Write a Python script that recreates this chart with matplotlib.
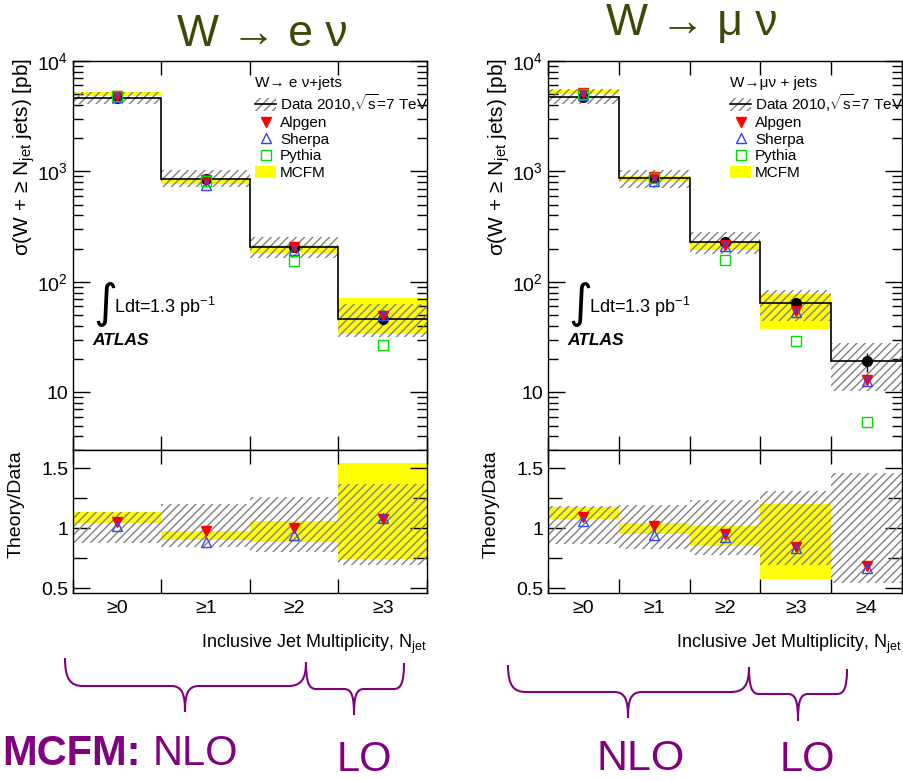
import numpy as np
import matplotlib
matplotlib.use("Agg")
import matplotlib.pyplot as plt
from matplotlib.patches import Patch, PathPatch
from matplotlib.lines import Line2D
from matplotlib.path import Path
from matplotlib.ticker import FixedLocator, LogLocator, NullFormatter, FixedFormatter

plt.rcParams.update({
    "font.family": ["Liberation Sans", "DejaVu Sans"],
    "mathtext.fontset": "custom",
    "mathtext.rm": "Liberation Sans",
    "mathtext.it": "Liberation Sans:italic",
    "mathtext.bf": "Liberation Sans:bold",
    "mathtext.default": "regular",
    "hatch.linewidth": 1.0,
})

# ---- data : W -> e nu ----
e_bins = ["≥0", "≥1", "≥2", "≥3"]
e_data = [4600, 853, 205, 46]
e_stat = [0.01, 0.02, 0.03, 0.08]          # relative stat. error on data point
e_band_lo = [0.88, 0.845, 0.80, 0.69]      # data uncertainty band (relative)
e_band_hi = [1.13, 1.20, 1.255, 1.37]
e_mcfm_lo = [1.04, 0.905, 0.885, 0.74]     # MCFM / data
e_mcfm_hi = [1.135, 0.978, 1.056, 1.545]
e_alpgen = [1.05, 0.98, 1.0, 1.075]        # Alpgen / data
e_sherpa = [1.02, 0.885, 0.94, 1.08]       # Sherpa / data
e_pythia = [4800, 824, 153, 27]            # pb

# ---- data : W -> mu nu ----
mu_bins = ["≥0", "≥1", "≥2", "≥3", "≥4"]
mu_data = [4680, 865, 228, 64.5, 19]
mu_stat = [0.01, 0.02, 0.03, 0.07, 0.2]
mu_band_lo = [0.865, 0.825, 0.78, 0.69, 0.54]
mu_band_hi = [1.18, 1.19, 1.23, 1.31, 1.455]
mu_mcfm_lo = [1.072, 0.953, 0.85, 0.575, np.nan]
mu_mcfm_hi = [1.178, 1.04, 1.017, 1.198, np.nan]
mu_alpgen = [1.09, 1.02, 0.955, 0.84, 0.685]
mu_sherpa = [1.06, 0.94, 0.93, 0.835, 0.67]
mu_pythia = [5000, 870, 159, 29, 5.4]

W, H = 904, 781
fig = plt.figure(figsize=(W / 100, H / 100), dpi=100)

HATCH_C = "#808080"
YEL = "#ffff00"
RED = "#ff0000"
BLUE = "#3344ff"
GREEN = "#00dd00"
PURPLE = "#800080"
OLIVE = "#3b4a06"


def px_axes(x0, y0, x1, y1):
    return fig.add_axes([x0 / W, 1 - y1 / H, (x1 - x0) / W, (y1 - y0) / H])


def style(ax, n):
    ax.set_xlim(-0.5, n - 0.5)
    ax.xaxis.set_major_locator(FixedLocator(np.arange(n + 1) - 0.5))
    ax.xaxis.set_major_formatter(NullFormatter())
    ax.tick_params(axis="both", which="both", direction="in", top=True, right=True)
    ax.tick_params(axis="x", which="major", length=10, width=1)
    ax.tick_params(axis="y", which="major", length=12, width=1, labelsize=14, pad=3.5)
    ax.tick_params(axis="y", which="minor", length=7, width=1)
    for s in ax.spines.values():
        s.set_linewidth(1.0)


def panel(x0, x1, bins, data, stat, blo, bhi, mlo, mhi, alp, she, pyt, title, header):
    n = len(bins)
    data = np.array(data, float)
    blo, bhi = np.array(blo), np.array(bhi)
    mlo, mhi = np.array(mlo), np.array(mhi)
    alp, she = np.array(alp), np.array(she)
    stat = np.array(stat)
    x = np.arange(n)
    edges = np.arange(n + 1) - 0.5
    has = ~np.isnan(mlo)

    ax = px_axes(x0, 61, x1, 450)
    axr = px_axes(x0, 450, x1, 593)

    # ---- main panel ----
    ax.set_yscale("log")
    ax.bar(x[has], (mhi - mlo)[has] * data[has], bottom=(mlo * data)[has], width=1,
           color=YEL, linewidth=0, zorder=1)
    ax.bar(x, (bhi - blo) * data, bottom=blo * data, width=1, fill=False,
           hatch="////", edgecolor=HATCH_C, linewidth=0, zorder=2)
    ax.stairs(data, edges, color="black", lw=1.2, baseline=None, zorder=3)
    ax.errorbar(x, data, yerr=stat * data, fmt="o", color="black", ms=7,
                elinewidth=1, capsize=0, zorder=4)
    ax.plot(x, alp * data, ls="none", marker="v", color=RED, ms=7, zorder=5)
    ax.plot(x, she * data, ls="none", marker="^", mfc="none", mec=BLUE, mew=1, ms=7, zorder=6)
    ax.plot(x, pyt, ls="none", marker="s", mfc="none", mec=GREEN, mew=1, ms=7, zorder=6)

    ax.set_ylim(3, 1e4)
    style(ax, n)
    ax.yaxis.set_major_locator(FixedLocator([10, 100, 1000, 10000]))
    ax.yaxis.set_major_formatter(FixedFormatter(["10", "$10^{2}$", "$10^{3}$", "$10^{4}$"]))
    ax.yaxis.set_minor_locator(LogLocator(base=10, subs=np.arange(2, 10), numticks=20))
    ax.yaxis.set_minor_formatter(NullFormatter())
    ax.set_ylabel(r"σ(W + ≥ N$_{jet}$ jets) [pb]", fontsize=15, loc="top")
    ax.yaxis.set_label_coords(-0.102, 1.008)

    handles = [
        (Patch(facecolor="none", hatch="////", edgecolor=HATCH_C, linewidth=0),
         Line2D([], [], color="black", lw=1.2)),
        Line2D([], [], ls="none", marker="v", color=RED, ms=7),
        Line2D([], [], ls="none", marker="^", mfc="none", mec=BLUE, ms=7),
        Line2D([], [], ls="none", marker="s", mfc="none", mec=GREEN, ms=7),
        Patch(facecolor=YEL, edgecolor="none"),
    ]
    labels = [r"Data 2010,$\sqrt{s}$=7 TeV", "Alpgen", "Sherpa", "Pythia", "MCFM"]
    ax.legend(handles, labels, title=header, loc="upper left",
              bbox_to_anchor=(182 / (x1 - x0), 0.962),
              frameon=False, fontsize=11, title_fontsize=11, numpoints=1,
              handlelength=1.4, handleheight=0.85, handletextpad=0.25,
              labelspacing=0.14, borderpad=0, borderaxespad=0, alignment="left")

    fig.text((x0 + 20) / W, 1 - 317 / H, "∫", fontsize=33, family="DejaVu Sans",
             va="baseline", ha="left")
    fig.text((x0 + 41) / W, 1 - 313 / H, "Ldt=1.3 pb$^{-1}$", fontsize=13,
             va="baseline", ha="left")
    fig.text((x0 + 19) / W, 1 - 345 / H, "ATLAS", fontsize=12.5, weight="bold",
             style="italic", va="baseline", ha="left")

    # ---- ratio panel ----
    axr.bar(x[has], (mhi - mlo)[has], bottom=mlo[has], width=1, color=YEL, linewidth=0, zorder=1)
    axr.bar(x, bhi - blo, bottom=blo, width=1, fill=False, hatch="////",
            edgecolor=HATCH_C, linewidth=0, zorder=2)
    axr.plot(x, alp, ls="none", marker="v", color=RED, ms=7, zorder=5)
    axr.plot(x, she, ls="none", marker="^", mfc="none", mec=BLUE, mew=1, ms=7, zorder=6)
    axr.set_ylim(0.46, 1.65)
    style(axr, n)
    axr.yaxis.set_major_locator(FixedLocator([0.5, 1.0, 1.5]))
    axr.yaxis.set_major_formatter(FixedFormatter(["0.5", "1", "1.5"]))
    axr.yaxis.set_minor_locator(FixedLocator([0.75, 1.25]))
    axr.tick_params(axis="y", which="minor", length=10)
    axr.xaxis.set_minor_locator(FixedLocator(x))
    axr.xaxis.set_minor_formatter(FixedFormatter(bins))
    axr.tick_params(axis="x", which="minor", length=0, labelsize=14, pad=5)
    axr.set_ylabel("Theory/Data", fontsize=14, loc="top")
    axr.yaxis.set_label_coords(-0.136, 1.0)
    axr.set_xlabel(r"Inclusive Jet Multiplicity, N$_{jet}$", fontsize=13, loc="right")
    axr.xaxis.set_label_coords(1.0, -0.28)

    fig.text(title[1] / W, 1 - title[2] / H, title[0], fontsize=32, color=OLIVE,
             ha="center", va="baseline")


panel(73, 427, e_bins, e_data, e_stat, e_band_lo, e_band_hi, e_mcfm_lo, e_mcfm_hi,
      e_alpgen, e_sherpa, e_pythia, ("W → e ν", 262, 46), "W→ e ν+jets")
panel(548, 902, mu_bins, mu_data, mu_stat, mu_band_lo, mu_band_hi, mu_mcfm_lo, mu_mcfm_hi,
      mu_alpgen, mu_sherpa, mu_pythia, ("W → μ ν", 692, 35), "W→μν + jets")


def brace(x0, y0, x1, y1, ymid, tipx, tipy, r=18, r2=14):
    pts = [(x0, y0),
           (x0, y0 + 0.75 * (ymid - y0)), (x0 + 0.3 * r, ymid), (x0 + r, ymid),
           (tipx - r2, ymid),
           (tipx - 0.2 * r2, ymid), (tipx, ymid + 0.3 * (tipy - ymid)), (tipx, tipy),
           (tipx, ymid + 0.3 * (tipy - ymid)), (tipx + 0.2 * r2, ymid), (tipx + r2, ymid),
           (x1 - r, ymid),
           (x1 - 0.3 * r, ymid), (x1, y1 + 0.75 * (ymid - y1)), (x1, y1)]
    codes = ([Path.MOVETO] + [Path.CURVE4] * 3 + [Path.LINETO] + [Path.CURVE4] * 6
             + [Path.LINETO] + [Path.CURVE4] * 3)
    verts = [(px / W, 1 - py / H) for px, py in pts]
    fig.add_artist(PathPatch(Path(verts, codes), transform=fig.transFigure,
                             fill=False, edgecolor=PURPLE, lw=1.5))


brace(65, 658, 306, 662, 686, 185, 712)
brace(306, 662, 404, 663, 689, 354, 715, r=10, r2=10)
brace(508, 665, 749, 667, 692, 628, 718)
brace(749, 667, 847, 669, 694, 798, 721, r=10, r2=10)

fig.text(2 / W, 1 - 765 / H, "MCFM:", fontsize=30, weight="bold", color=PURPLE, va="baseline")
fig.text(153 / W, 1 - 765 / H, "NLO", fontsize=30, color=PURPLE, va="baseline")
fig.text(337 / W, 1 - 771 / H, "LO", fontsize=30, color=PURPLE, va="baseline")
fig.text(597 / W, 1 - 770 / H, "NLO", fontsize=31, color=PURPLE, va="baseline")
fig.text(780 / W, 1 - 771 / H, "LO", fontsize=30, color=PURPLE, va="baseline")

fig.savefig("out.png", dpi=100)
